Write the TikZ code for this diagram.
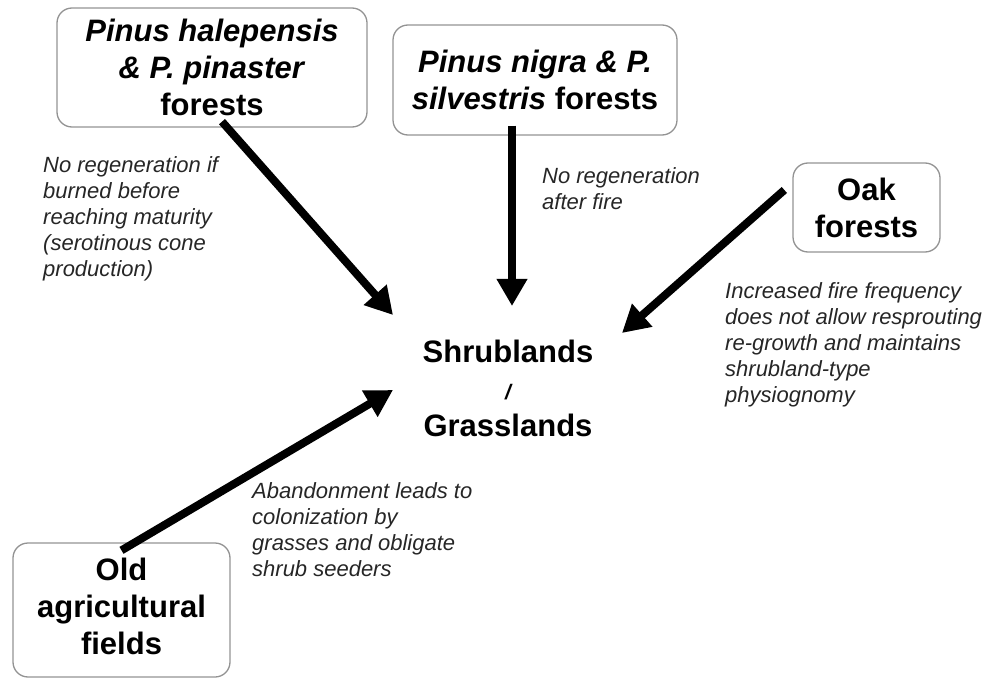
\documentclass[tikz,border=0pt]{standalone}
\usepackage{fontspec}
\setmainfont{Liberation Sans}
\usetikzlibrary{arrows.meta}
\tikzset{
    forestbox/.style={draw=gray!85, line width=1.3pt, rounded corners=15pt, align=center, inner sep=0pt, font=\bfseries\fontsize{31}{37}\selectfont},
    remark/.style={anchor=north west, align=left, inner sep=0pt, text=black!85, font=\itshape\fontsize{22}{26}\selectfont},
    firearrow/.style={line width=8pt, -{Triangle[length=27pt,width=29pt]}}
}
\begin{document}
\begin{tikzpicture}[x=1pt,y=1pt,yscale=-1]
            \useasboundingbox (0,0) rectangle (991,679);
            %forest types
            \node[forestbox, minimum width=310pt, minimum height=119pt] (halepensis) at (212,67.5) {\textit{Pinus halepensis}\\\textit{\& P. pinaster}\\forests};
            \node[forestbox, minimum width=284pt, minimum height=110pt] (nigra) at (535,80) {\textit{Pinus nigra \& P.}\\\textit{silvestris} forests};
            \node[forestbox, minimum width=147pt, minimum height=89pt] (oak) at (866.5,207.5) {Oak\\forests};
            \node[forestbox, minimum width=217pt, minimum height=134pt, text depth=8pt] (oldfields) at (121.5,610) {Old\\agricultural\\fields};
            %
            %center
            \node[align=center, inner sep=0pt, font=\bfseries\fontsize{31}{37}\selectfont] (shrub) at (508,388) {Shrublands\\{\itshape\fontsize{21}{37}\selectfont /}\\Grasslands};
            %
            %arrow ends
            \coordinate (endNW) at (393,315);
            \coordinate (endN) at (512,306);
            \coordinate (endNE) at (622,333);
            \coordinate (endW) at (393,390);
            %arrows
            \draw[firearrow] ([xshift=10pt,yshift=-6pt]halepensis.south) -- (endNW);
            \draw[firearrow] ([xshift=-23pt,yshift=-10pt]nigra.south) -- (endN);
            \draw[firearrow] ([xshift=-8pt,yshift=-17.5pt]oak.west) -- (endNE);
            \draw[firearrow] ([yshift=8pt]oldfields.north) -- (endW);
            %
            %remarks
            \node[remark] (noteHalepensis) at (43,156) {No regeneration if\\burned before\\reaching maturity\\(serotinous cone\\production)};
            \node[remark] (noteNigra) at (542,167) {No regeneration\\after fire};
            \node[remark] (noteOak) at (725,282) {Increased fire frequency\\does not allow resprouting\\re-growth and maintains\\shrubland-type\\physiognomy};
            \node[remark] (noteFields) at (252,482) {Abandonment leads to\\colonization by\\grasses and obligate\\shrub seeders};
            %
        \end{tikzpicture}
\end{document}
